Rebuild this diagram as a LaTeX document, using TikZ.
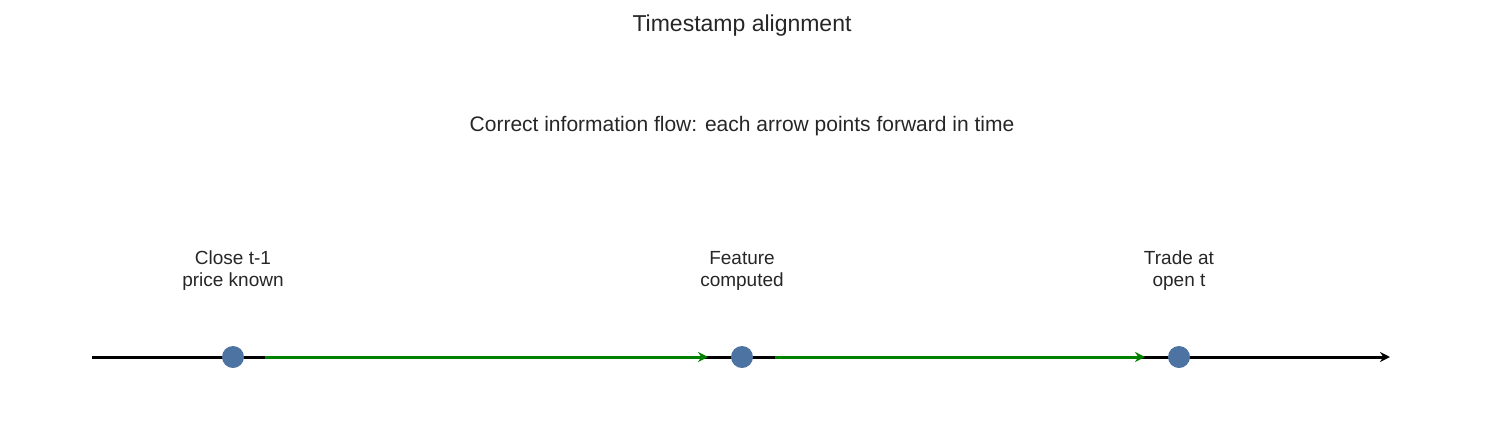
\documentclass[tikz,border=0pt]{standalone}
\usepackage{fontspec}
\setmainfont{Liberation Sans}
\usetikzlibrary{arrows.meta}
\definecolor{mblue}{rgb}{0.30, 0.45, 0.63}
\definecolor{mgreen}{rgb}{0, 0.5, 0}
\definecolor{mtext}{rgb}{0.15, 0.15, 0.15}
\tikzset{event/.style = {fill = mblue, circle, inner sep = 0, minimum size = 11pt},
  lbl/.style = {text = mtext, align = center, font = \fontsize{9.5}{11}\selectfont},
  flow/.style = {mgreen, line width = 1.5pt, -{Stealth[length = 5pt, width = 5pt]}}}

\begin{document}
\begin{tikzpicture}[x = 0.5pt, y = -0.5pt]
    \useasboundingbox (0, 0) rectangle (1485, 435);
    \node [text = mtext, font = \fontsize{11.5}{13}\selectfont] (title) at (742, 26) {Timestamp alignment};
    \node [text = mtext, font = \fontsize{10.5}{12}\selectfont] (sub) at (742, 126) {Correct information flow: each arrow points forward in time};
    \coordinate (start) at (92, 357);
    \coordinate (end) at (1390, 357);
    \draw [black, line width = 1.5pt, -{Stealth[length = 5pt, width = 5pt]}] (start) -- (end);
    \node [event] (close) at (233, 357) {};
    \node [event] (feat) at (742, 357) {};
    \node [event] (trade) at (1179, 357) {};
    \draw [flow] (265, 357) -- (708, 357);
    \draw [flow] (775, 357) -- (1145, 357);
    \node [lbl] (lclose) at (233, 271) {Close t-1\\price known};
    \node [lbl] (lfeat) at (742, 271) {Feature\\computed};
    \node [lbl] (ltrade) at (1179, 271) {Trade at\\open t};
  \end{tikzpicture}
\end{document}
